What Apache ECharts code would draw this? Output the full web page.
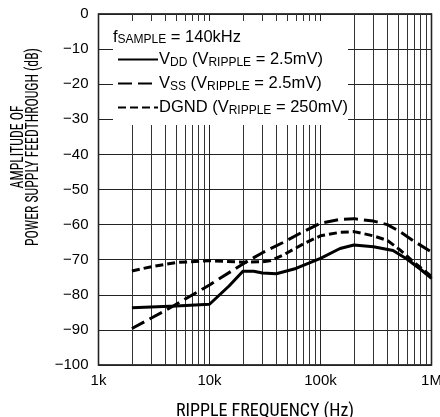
<!DOCTYPE html>
<html><head><meta charset="utf-8">
<script src="https://cdn.jsdelivr.net/npm/echarts@6/dist/echarts.min.js"></script>
<style>html,body{margin:0;padding:0;background:#fff}#c{width:440px;height:417px}</style>
</head><body><div id="c"></div>
<script>
// Data (frequency Hz, dB)
const vdd = [[2000,-83.7],[5000,-83.2],[10000,-82.7],[15000,-77.5],[20000,-73.3],[25000,-73.3],[30000,-73.8],[40000,-74.0],[60000,-72.5],[100000,-69.6],[150000,-66.8],[200000,-65.8],[300000,-66.3],[450000,-67.4],[600000,-69.8],[800000,-72.8],[1000000,-75.3]];
const vss = [[2000,-89.6],[4000,-84.5],[10000,-77.2],[20000,-71.2],[30000,-68.0],[46000,-65.1],[70000,-62.0],[100000,-59.6],[150000,-58.5],[200000,-58.3],[300000,-59.0],[400000,-60.0],[520000,-62.0],[700000,-64.8],[1000000,-67.8]];
const dgnd = [[2000,-73.2],[3000,-72.0],[5000,-70.8],[10000,-70.3],[20000,-70.7],[30000,-70.6],[35000,-70.3],[46000,-68.7],[70000,-65.5],[100000,-63.2],[150000,-62.2],[200000,-62.0],[300000,-63.2],[400000,-64.5],[520000,-67.2],[700000,-70.8],[1000000,-74.8]];
const minorTicks = [2000,3000,4000,5000,6000,7000,8000,9000,20000,30000,40000,50000,60000,70000,80000,90000,200000,300000,400000,500000,600000,700000,800000,900000];
const xTickLabels = {1000:'1k',10000:'10k',100000:'100k',1000000:'1M'};
const seriesNames = ['V{s|DD} (V{s|RIPPLE} = 2.5mV)','V{s|SS} (V{s|RIPPLE} = 2.5mV)','DGND (V{s|RIPPLE} = 250mV)'];

const SANS = '"Liberation Sans",Arial,sans-serif';
const COND = '"Roboto Condensed","Liberation Sans",sans-serif';
const chart = echarts.init(document.getElementById('c'), null, {renderer:'canvas'});
const rich = {s:{fontSize:12, fontFamily:SANS, color:'#000', padding:[6,0,0,0]}};
chart.setOption({
  animation:false,
  backgroundColor:'#fff',
  textStyle:{fontFamily:SANS, color:'#000'},
  grid:{left:98.5, right:8.5, top:14, bottom:52, show:true, borderColor:'#000', borderWidth:1.5, z:0,
    containLabel:false, outerBoundsMode:'none'},
  xAxis:{type:'log', logBase:10, min:1000, max:1000000, interval:1,
    axisLine:{show:false}, axisTick:{show:false},
    splitLine:{show:true, lineStyle:{color:'#222', width:1}},
    axisLabel:{fontSize:15, color:'#000', fontFamily:SANS, margin:8,
      formatter:v=>xTickLabels[Math.round(v)]||''},
    name:'RIPPLE FREQUENCY (Hz)', nameLocation:'middle', nameGap:37,
    nameTextStyle:{fontSize:18, color:'#000', fontFamily:COND}},
  yAxis:{type:'value', min:-100, max:0, interval:10,
    axisLine:{show:false}, axisTick:{show:false},
    splitLine:{show:true, lineStyle:{color:'#222', width:1}},
    axisLabel:{fontSize:15, color:'#000', fontFamily:SANS, margin:10, padding:[3,0,0,0],
      formatter:v=>v<0?'\u2212'+Math.abs(v):String(v)}},
  legend:{orient:'vertical', left:112, top:46, itemWidth:40, itemHeight:14, itemGap:6.5, z:60,
    data:seriesNames, itemStyle:{opacity:0},
    textStyle:{fontSize:16.5, color:'#000', fontFamily:SANS, padding:[0,0,0,-4], rich:rich},
    selectedMode:false},
  graphic:[
    {type:'rect', shape:{x:113, y:21, width:235, height:104}, style:{fill:'#fff'}, z:50},
    {type:'text', x:113, y:28, z:60, style:{text:'f{s|SAMPLE} = 140kHz', font:'16.5px '+SANS, fill:'#000', rich:rich}},
    {type:'text', x:11, y:147, rotation:Math.PI/2, scaleX:0.74, z:60,
      style:{text:'AMPLITUDE OF\nPOWER SUPPLY FEEDTHROUGH (dB)', font:'18.5px '+COND, fill:'#000', align:'center', verticalAlign:'top', lineHeight:15}}
  ],
  series:[
    {name:seriesNames[0], type:'line', data:vdd, symbol:'none', smooth:false, z:10,
      itemStyle:{color:'#000'}, lineStyle:{color:'#000', width:3},
      markLine:{silent:true, symbol:'none', label:{show:false}, z:1,
        lineStyle:{color:'#333', width:1, type:'solid'},
        data:minorTicks.map(v=>({xAxis:v}))}},
    {name:seriesNames[1], type:'line', data:vss, symbol:'none', smooth:false, z:10,
      itemStyle:{color:'#000'}, lineStyle:{color:'#000', width:3, type:[14,6]}},
    {name:seriesNames[2], type:'line', data:dgnd, symbol:'none', smooth:false, z:10,
      itemStyle:{color:'#000'}, lineStyle:{color:'#000', width:3, type:[8,4]}}
  ]
});
</script></body></html>
